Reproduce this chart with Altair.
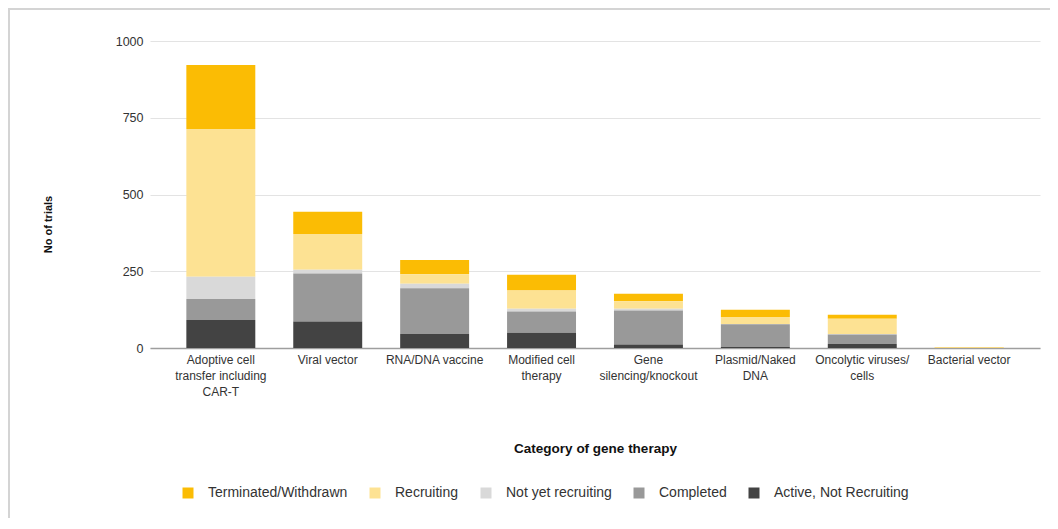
import altair as alt
import pandas as pd

categories = [
    "Adoptive cell transfer including CAR-T",
    "Viral vector",
    "RNA/DNA vaccine",
    "Modified cell therapy",
    "Gene silencing/knockout",
    "Plasmid/Naked DNA",
    "Oncolytic viruses/cells",
    "Bacterial vector",
]
label_lines = [
    ["Adoptive cell", "transfer including", "CAR-T"],
    ["Viral vector"],
    ["RNA/DNA vaccine"],
    ["Modified cell", "therapy"],
    ["Gene", "silencing/knockout"],
    ["Plasmid/Naked", "DNA"],
    ["Oncolytic viruses/", "cells"],
    ["Bacterial vector"],
]
statuses = ["Terminated/Withdrawn", "Recruiting", "Not yet recruiting", "Completed", "Active, Not Recruiting"]
colors = ["#FBBC04", "#FDE293", "#D9D9D9", "#999999", "#434343"]

active = [91, 86, 46, 50, 11, 3, 13, 0]
completed = [69, 157, 149, 69, 111, 74, 31, 0]
not_yet = [72, 12, 14, 9, 6, 1, 2, 0]
recruiting = [481, 116, 31, 59, 24, 23, 49, 2]
terminated = [209, 73, 47, 52, 25, 24, 13, 1]

series = {
    "Terminated/Withdrawn": terminated,
    "Recruiting": recruiting,
    "Not yet recruiting": not_yet,
    "Completed": completed,
    "Active, Not Recruiting": active,
}
rows = []
for s_i, s in enumerate(statuses):
    for c, v in zip(categories, series[s]):
        rows.append({"category": c, "status": s, "trials": v, "order": len(statuses) - s_i})
df = pd.DataFrame(rows)

# multi-line label expression
expr = "''"
for c, lines in reversed(list(zip(categories, label_lines))):
    arr = "[" + ",".join("'" + l + "'" for l in lines) + "]"
    expr = f"datum.value == '{c}' ? {arr} : ({expr})"

FONT = "Liberation Sans"

bars = alt.Chart(df).mark_bar().encode(
    x=alt.X(
        "category:N",
        sort=categories,
        scale=alt.Scale(paddingInner=0.355, paddingOuter=0.34),
        axis=alt.Axis(
            title="Category of gene therapy",
            labelAngle=0,
            labelExpr=expr,
            labelFontSize=12,
            labelColor="#333333",
            labelLineHeight=16,
            labelPadding=6,
            ticks=False,
            domainColor="#9e9e9e",
            domainWidth=1.5,
            titleFontSize=13.5,
            titleFontWeight="bold",
            titleColor="#111111",
            titleY=100,
            titleBaseline="middle",
        ),
    ),
    y=alt.Y(
        "trials:Q",
        stack="zero",
        scale=alt.Scale(domain=[0, 1000]),
        axis=alt.Axis(
            title="No of trials",
            values=[0, 250, 500, 750, 1000],
            format="d",
            domain=False,
            ticks=False,
            labelFontSize=12.5,
            labelColor="#333333",
            labelPadding=7,
            gridColor="#e3e3e3",
            titleFontSize=11,
            titleFontWeight="bold",
            titleColor="#111111",
            titleAngle=-90,
            titleX=-102,
            titleY=183,
            titleAlign="center",
            titleBaseline="middle",
        ),
    ),
    color=alt.Color(
        "status:N",
        sort=statuses,
        scale=alt.Scale(domain=statuses, range=colors),
        legend=alt.Legend(
            title=None,
            orient="none",
            direction="horizontal",
            legendX=31,
            legendY=445,
            symbolType="square",
            symbolSize=121,
            symbolStrokeWidth=0,
            labelFontSize=14,
            labelColor="#333333",
            labelOffset=13,
            columnPadding=20,
        ),
    ),
    order=alt.Order("order:Q", sort="ascending"),
)

border_data = alt.Data(values=[{}])
top_border = alt.Chart(border_data).mark_rule(color="#d4d4d4", strokeWidth=2).encode(
    x=alt.value(-141), x2=alt.value(905), y=alt.value(-32)
)
left_border = alt.Chart(border_data).mark_rule(color="#d4d4d4", strokeWidth=2).encode(
    x=alt.value(-141), y=alt.value(-33), y2=alt.value(480)
)

chart = alt.layer(bars, top_border, left_border).properties(
    width=890,
    height=307,
    autosize=alt.AutoSizeParams(type="none"),
    padding={"left": 142, "top": 33, "right": 10, "bottom": 170},
).configure(font=FONT).configure_view(stroke=None)

chart.save("out.html", embed_options={"renderer": "svg", "actions": False})
